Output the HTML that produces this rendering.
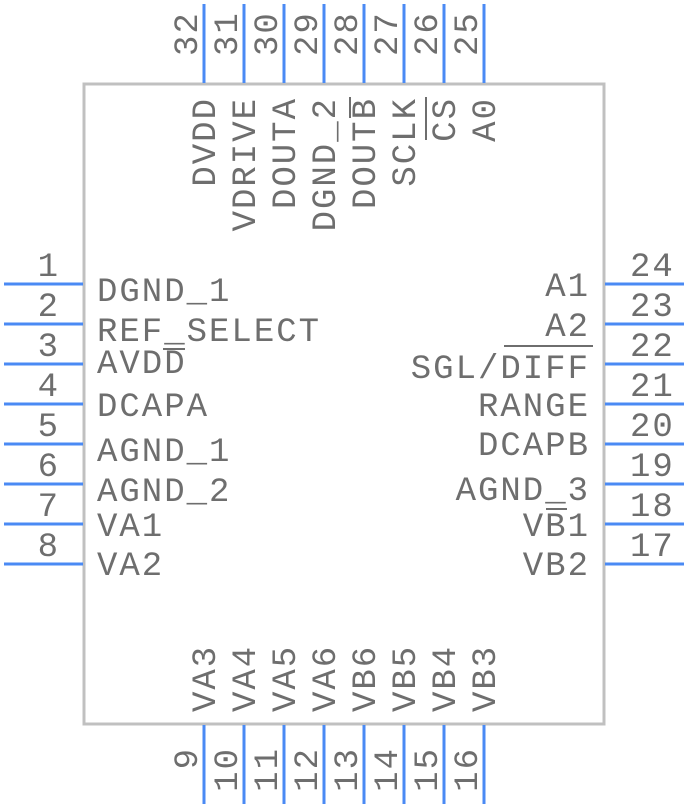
<!DOCTYPE html>
<html><head><style>
html,body{margin:0;padding:0;background:#fff;}
svg{display:block;}
text{font-family:"Liberation Mono",monospace;font-size:34px;fill:#6e6e6e;letter-spacing:2px;}
</style></head><body>
<svg width="688" height="808" viewBox="0 0 688 808">
<rect x="84" y="84" width="520" height="640" fill="none" stroke="#c0c0c0" stroke-width="3"/>
<g stroke="#4a8af4" stroke-width="3">
<line x1="4" y1="284" x2="83" y2="284"/><line x1="4" y1="324" x2="83" y2="324"/>
<line x1="4" y1="364" x2="83" y2="364"/><line x1="4" y1="404" x2="83" y2="404"/>
<line x1="4" y1="444" x2="83" y2="444"/><line x1="4" y1="484" x2="83" y2="484"/>
<line x1="4" y1="524" x2="83" y2="524"/><line x1="4" y1="564" x2="83" y2="564"/>
<line x1="605" y1="284" x2="684" y2="284"/><line x1="605" y1="324" x2="684" y2="324"/>
<line x1="605" y1="364" x2="684" y2="364"/><line x1="605" y1="404" x2="684" y2="404"/>
<line x1="605" y1="444" x2="684" y2="444"/><line x1="605" y1="484" x2="684" y2="484"/>
<line x1="605" y1="524" x2="684" y2="524"/><line x1="605" y1="564" x2="684" y2="564"/>
<line x1="204" y1="4" x2="204" y2="83"/><line x1="244" y1="4" x2="244" y2="83"/>
<line x1="284" y1="4" x2="284" y2="83"/><line x1="324" y1="4" x2="324" y2="83"/>
<line x1="364" y1="4" x2="364" y2="83"/><line x1="404" y1="4" x2="404" y2="83"/>
<line x1="444" y1="4" x2="444" y2="83"/><line x1="484" y1="4" x2="484" y2="83"/>
<line x1="204" y1="725" x2="204" y2="804"/><line x1="244" y1="725" x2="244" y2="804"/>
<line x1="284" y1="725" x2="284" y2="804"/><line x1="324" y1="725" x2="324" y2="804"/>
<line x1="364" y1="725" x2="364" y2="804"/><line x1="404" y1="725" x2="404" y2="804"/>
<line x1="444" y1="725" x2="444" y2="804"/><line x1="484" y1="725" x2="484" y2="804"/>
</g>
<!-- left numbers -->
<g text-anchor="end">
<text x="60" y="276">1</text><text x="60" y="316">2</text><text x="60" y="356">3</text><text x="60" y="396">4</text>
<text x="60" y="436">5</text><text x="60" y="476">6</text><text x="60" y="516">7</text><text x="60" y="556">8</text>
</g>
<!-- right numbers -->
<g>
<text x="630" y="276">24</text><text x="630" y="316">23</text><text x="630" y="356">22</text><text x="630" y="396">21</text>
<text x="630" y="436">20</text><text x="630" y="476">19</text><text x="630" y="516">18</text><text x="630" y="556">17</text>
</g>
<!-- left labels -->
<g>
<text x="97" y="301">DGND_1</text><text x="97" y="341">REF_SELECT</text><text x="97" y="373">AVDD</text>
<text x="97" y="416">DCAPA</text><text x="97" y="461">AGND_1</text><text x="97" y="501">AGND_2</text>
<text x="97" y="536">VA1</text><text x="97" y="575">VA2</text>
</g>
<!-- right labels -->
<g text-anchor="end">
<text x="590" y="296">A1</text><text x="590" y="336">A2</text><text x="590" y="378">SGL/DIFF</text>
<text x="590" y="416">RANGE</text><text x="590" y="455">DCAPB</text><text x="590" y="500">AGND_3</text>
<text x="590" y="536">VB1</text><text x="590" y="575">VB2</text>
</g>
<!-- overbars -->
<g stroke="#6e6e6e" stroke-width="2">
<line x1="163" y1="349" x2="185" y2="349"/>
<line x1="504" y1="346" x2="593" y2="346"/>
<line x1="546" y1="509" x2="567" y2="509"/>
<line x1="350" y1="97" x2="350" y2="118"/>
<line x1="426" y1="97" x2="426" y2="140"/>
</g>
<!-- top labels -->
<g text-anchor="end">
<text transform="translate(215,97) rotate(-90)">DVDD</text>
<text transform="translate(255,97) rotate(-90)">VDRIVE</text>
<text transform="translate(295,97) rotate(-90)">DOUTA</text>
<text transform="translate(335,97) rotate(-90)">DGND_2</text>
<text transform="translate(375,97) rotate(-90)">DOUTB</text>
<text transform="translate(415,97) rotate(-90)">SCLK</text>
<text transform="translate(455,97) rotate(-90)">CS</text>
<text transform="translate(495,97) rotate(-90)">A0</text>
</g>
<!-- top numbers -->
<g>
<text transform="translate(197,56) rotate(-90)">32</text>
<text transform="translate(237,56) rotate(-90)">31</text>
<text transform="translate(277,56) rotate(-90)">30</text>
<text transform="translate(317,56) rotate(-90)">29</text>
<text transform="translate(357,56) rotate(-90)">28</text>
<text transform="translate(397,56) rotate(-90)">27</text>
<text transform="translate(437,56) rotate(-90)">26</text>
<text transform="translate(477,56) rotate(-90)">25</text>
</g>
<!-- bottom labels -->
<g>
<text transform="translate(215,712) rotate(-90)">VA3</text>
<text transform="translate(255,712) rotate(-90)">VA4</text>
<text transform="translate(295,712) rotate(-90)">VA5</text>
<text transform="translate(335,712) rotate(-90)">VA6</text>
<text transform="translate(375,712) rotate(-90)">VB6</text>
<text transform="translate(415,712) rotate(-90)">VB5</text>
<text transform="translate(455,712) rotate(-90)">VB4</text>
<text transform="translate(495,712) rotate(-90)">VB3</text>
</g>
<!-- bottom numbers -->
<g text-anchor="end">
<text transform="translate(197,747) rotate(-90)">9</text>
<text transform="translate(237,747) rotate(-90)">10</text>
<text transform="translate(277,747) rotate(-90)">11</text>
<text transform="translate(317,747) rotate(-90)">12</text>
<text transform="translate(357,747) rotate(-90)">13</text>
<text transform="translate(397,747) rotate(-90)">14</text>
<text transform="translate(437,747) rotate(-90)">15</text>
<text transform="translate(477,747) rotate(-90)">16</text>
</g>
</svg>
</body></html>
